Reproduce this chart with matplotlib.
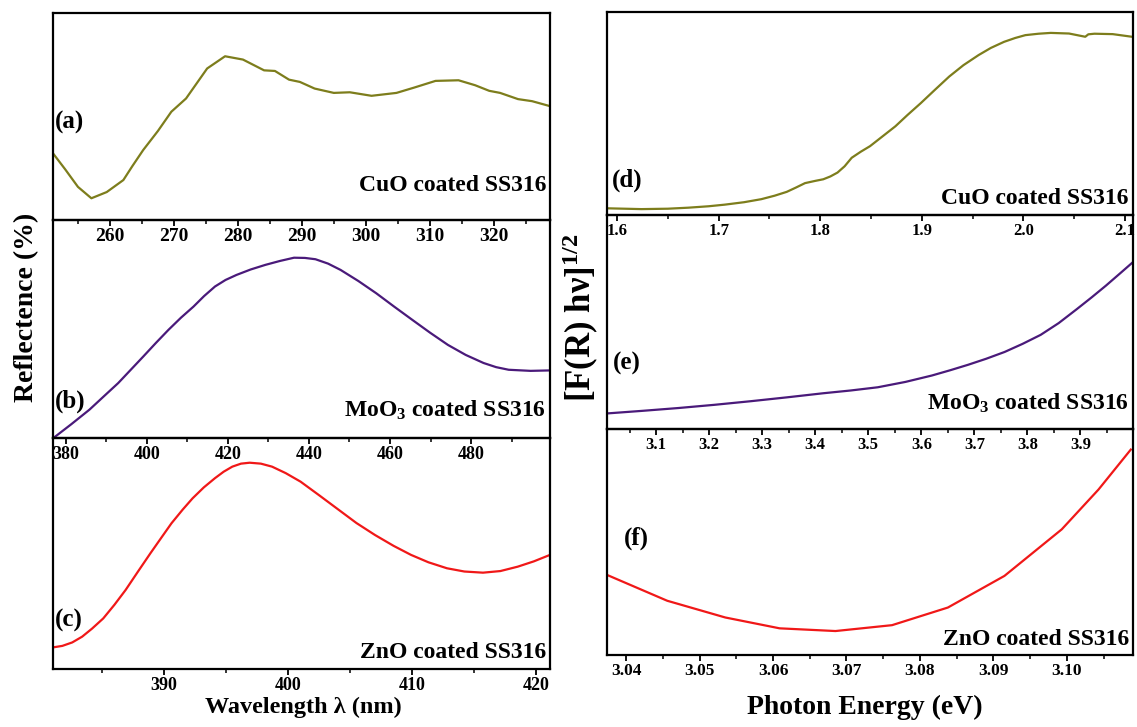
import numpy as np
import matplotlib
matplotlib.use("Agg")
import matplotlib.pyplot as plt
from matplotlib.ticker import MultipleLocator, FormatStrFormatter

plt.rcParams['font.family'] = ['Liberation Serif', 'DejaVu Serif']
plt.rcParams['font.weight'] = 'bold'
plt.rcParams['mathtext.fontset'] = 'custom'
plt.rcParams['mathtext.rm'] = 'Liberation Serif:bold'
plt.rcParams['mathtext.it'] = 'Liberation Serif:bold:italic'
plt.rcParams['mathtext.bf'] = 'Liberation Serif:bold'

# Reflectance spectra (relative units)
cuo_wl = [251.1, 253.0, 255.0, 257.1, 259.5, 262.1, 263.5, 265.2, 267.5, 269.6,
          271.9, 275.2, 278.0, 280.8, 284.1, 285.8, 288.0, 289.7, 292.0, 295.0,
          297.5, 300.9, 304.8, 307.6, 310.9, 314.5, 317.1, 319.3, 321.0, 323.8,
          326.0, 328.8]
cuo_refl = [0.322, 0.245, 0.160, 0.105, 0.135, 0.193, 0.260, 0.338, 0.430, 0.523,
            0.587, 0.732, 0.791, 0.775, 0.723, 0.720, 0.678, 0.667, 0.635, 0.614,
            0.617, 0.600, 0.614, 0.640, 0.672, 0.675, 0.651, 0.624, 0.614, 0.584,
            0.574, 0.550]

moo3_wl = [376.9, 381.3, 385.8, 389.4, 392.9, 396.0, 399.1, 402.2, 405.3, 408.4,
           411.5, 414.1, 416.8, 419.4, 422.1, 425.6, 429.2, 432.8, 436.3, 439.0,
           441.6, 444.7, 447.8, 452.2, 456.6, 461.0, 465.5, 469.9, 474.3, 478.7,
           483.1, 486.2, 489.3, 494.7, 499.5]
moo3_refl = [0.0, 0.063, 0.130, 0.192, 0.252, 0.313, 0.374, 0.436, 0.496, 0.552,
             0.603, 0.651, 0.695, 0.725, 0.748, 0.773, 0.794, 0.812, 0.827, 0.826,
             0.820, 0.800, 0.771, 0.720, 0.664, 0.603, 0.542, 0.483, 0.427, 0.381,
             0.344, 0.325, 0.313, 0.308, 0.310]

zno_wl = [381.1, 381.8, 382.6, 383.4, 384.2, 385.1, 386.0, 386.9, 387.9, 388.9,
          389.8, 390.6, 391.5, 392.3, 393.2, 394.1, 394.8, 395.5, 396.2, 396.9,
          397.8, 398.7, 399.8, 401.0, 402.5, 404.1, 405.5, 407.0, 408.5, 409.9,
          411.3, 412.8, 414.2, 415.7, 417.1, 418.5, 419.8, 421.1]
zno_refl = [0.094, 0.100, 0.115, 0.140, 0.175, 0.219, 0.278, 0.342, 0.422, 0.501,
            0.570, 0.631, 0.690, 0.739, 0.786, 0.826, 0.854, 0.876, 0.889, 0.893,
            0.889, 0.876, 0.848, 0.811, 0.752, 0.688, 0.632, 0.580, 0.533, 0.494,
            0.462, 0.436, 0.422, 0.417, 0.424, 0.443, 0.466, 0.494]

# Kubelka-Munk plots (relative units)
cuo_ev = [1.590, 1.624, 1.650, 1.670, 1.690, 1.706, 1.725, 1.742, 1.755, 1.767,
          1.776, 1.785, 1.795, 1.803, 1.810, 1.817, 1.824, 1.831, 1.840, 1.849,
          1.861, 1.874, 1.886, 1.899, 1.913, 1.927, 1.941, 1.956, 1.968, 1.981,
          1.992, 2.002, 2.015, 2.027, 2.045, 2.061, 2.064, 2.070, 2.088, 2.107]
cuo_km = [0.033, 0.029, 0.031, 0.036, 0.043, 0.051, 0.063, 0.078, 0.095, 0.114,
          0.135, 0.157, 0.168, 0.176, 0.190, 0.209, 0.240, 0.282, 0.312, 0.339,
          0.386, 0.437, 0.493, 0.551, 0.617, 0.682, 0.738, 0.788, 0.823, 0.853,
          0.872, 0.886, 0.893, 0.897, 0.894, 0.878, 0.890, 0.893, 0.891, 0.878]

moo3_ev = [3.009, 3.075, 3.142, 3.210, 3.279, 3.347, 3.415, 3.467, 3.518, 3.570,
           3.620, 3.655, 3.688, 3.722, 3.757, 3.791, 3.825, 3.859, 3.893, 3.921,
           3.948, 3.975, 3.999]
moo3_km = [0.073, 0.085, 0.098, 0.113, 0.130, 0.148, 0.167, 0.180, 0.195, 0.220,
           0.250, 0.275, 0.300, 0.328, 0.360, 0.398, 0.440, 0.495, 0.560, 0.615,
           0.670, 0.728, 0.780]

zno_ev = [3.0375, 3.0456, 3.0535, 3.0609, 3.0685, 3.0762, 3.0838, 3.0915, 3.0993,
          3.1043, 3.1087]
zno_km = [0.353, 0.240, 0.166, 0.118, 0.106, 0.132, 0.210, 0.350, 0.556, 0.732, 0.909]

olive = '#7d7d1c'
purple = '#4a1a7a'
red = '#f01818'

W, H = 1137, 727
fig = plt.figure(figsize=(W / 100, H / 100), dpi=100)


def box(x0, x1, y0, y1):
    return [x0 / W, 1 - y1 / H, (x1 - x0) / W, (y1 - y0) / H]


def setup(ax, xlim, major, minor, fmt, size):
    ax.set_facecolor('none')
    ax.set_xlim(*xlim)
    ax.set_ylim(0, 1)
    ax.set_yticks([])
    ax.xaxis.set_major_locator(MultipleLocator(major))
    ax.xaxis.set_minor_locator(MultipleLocator(minor))
    ax.xaxis.set_major_formatter(FormatStrFormatter(fmt))
    ax.tick_params(axis='x', which='major', direction='out', length=4, width=1.3,
                   pad=1.5, labelsize=size)
    ax.tick_params(axis='x', which='minor', direction='out', length=3, width=1.1)
    for s in ax.spines.values():
        s.set_linewidth(1.6)


def labels(ax, letter, lx, ly, name, ny):
    ax.text(lx, ly, letter, transform=ax.transAxes, fontsize=18,
            fontweight='bold', ha='left', va='center')
    ax.text(0.992, ny, name, transform=ax.transAxes, fontsize=17,
            fontweight='bold', ha='right', va='baseline')


# left column
ax_a = fig.add_axes(box(53, 550, 13, 220))
ax_b = fig.add_axes(box(53, 550, 220, 438))
ax_c = fig.add_axes(box(53, 550, 438, 669))
# right column
ax_d = fig.add_axes(box(607, 1133, 12, 215))
ax_e = fig.add_axes(box(607, 1133, 215, 429))
ax_f = fig.add_axes(box(607, 1133, 429, 655))

ax_a.plot(cuo_wl, cuo_refl, color=olive, lw=1.6)
setup(ax_a, (251.1, 328.8), 10, 5, '%d', 14)
labels(ax_a, '(a)', 0.004, 0.473, 'CuO coated SS316', 0.14)

ax_b.plot(moo3_wl, moo3_refl, color=purple, lw=1.6)
setup(ax_b, (376.8, 499.5), 20, 10, '%d', 13)
labels(ax_b, '(b)', 0.004, 0.167, 'MoO$_3$ coated SS316', 0.096)

ax_c.plot(zno_wl, zno_refl, color=red, lw=1.6)
setup(ax_c, (381.05, 421.1), 10, 5, '%d', 13)
labels(ax_c, '(c)', 0.004, 0.212, 'ZnO coated SS316', 0.048)

ax_d.plot(cuo_ev, cuo_km, color=olive, lw=1.6)
setup(ax_d, (1.590, 2.108), 0.1, 0.05, '%.1f', 12)
labels(ax_d, '(d)', 0.009, 0.17, 'CuO coated SS316', 0.054)

ax_e.plot(moo3_ev, moo3_km, color=purple, lw=1.6)
setup(ax_e, (3.0075, 3.999), 0.1, 0.05, '%.1f', 12)
labels(ax_e, '(e)', 0.012, 0.307, 'MoO$_3$ coated SS316', 0.089)

ax_f.plot(zno_ev, zno_km, color=red, lw=1.6)
setup(ax_f, (3.0374, 3.109), 0.01, 0.005, '%.2f', 12.5)
labels(ax_f, '(f)', 0.032, 0.516, 'ZnO coated SS316', 0.044)

fig.text(303 / W, 1 - 707 / H, 'Wavelength λ (nm)', fontsize=17.5, fontweight='bold',
         ha='center', va='center')
fig.text(865 / W, 1 - 707 / H, 'Photon Energy (eV)', fontsize=20, fontweight='bold',
         ha='center', va='center')
fig.text(27 / W, 1 - 307 / H, 'Reflectence (%)', fontsize=20, fontweight='bold',
         rotation=90, ha='center', va='center')
fig.text(581 / W, 1 - 318 / H, '[F(R) hν]$^{1/2}$', fontsize=25, fontweight='bold',
         rotation=90, ha='center', va='center')

fig.savefig('out.png', dpi=100)
